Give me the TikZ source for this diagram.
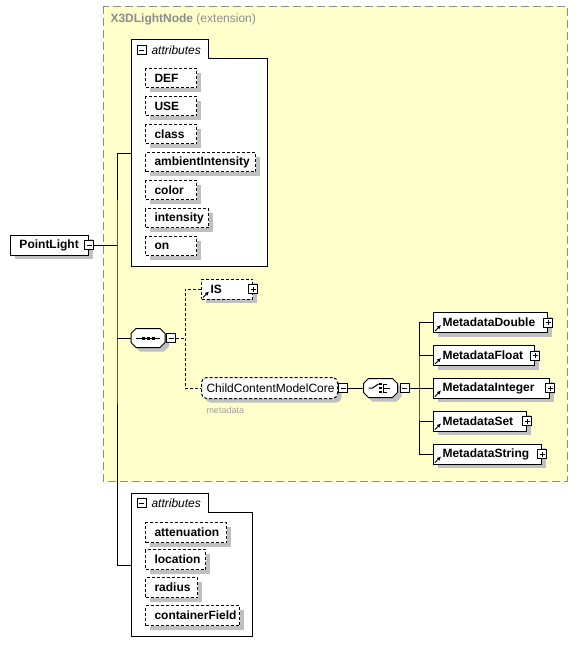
\documentclass[tikz,border=0pt]{standalone}
\usepackage{fontspec}
\setmainfont{Liberation Sans}
\usetikzlibrary{shadows,arrows.meta}

\definecolor{extfill}{RGB}{255,255,204}
\definecolor{extline}{RGB}{140,140,140}
\definecolor{shade}{RGB}{192,192,192}
\definecolor{notegray}{RGB}{160,160,160}

\tikzset{
  shade box/.style={drop shadow={shadow xshift=4pt, shadow yshift=-4pt, fill=shade, opacity=1}},
  attr/.style={draw, dash pattern=on 3pt off 2pt, fill=white, shade box, anchor=north west,
    inner xsep=9pt, inner ysep=0pt, minimum height=19, align=left,
    font=\bfseries\fontsize{12}{14}\selectfont},
  elem/.style={draw, fill=white, shade box, anchor=west, inner xsep=9pt, inner ysep=0pt,
    minimum height=20, align=left, font=\bfseries\fontsize{12}{14}\selectfont},
  pm/.style={draw, fill=white, minimum size=9, inner sep=0pt},
  minus/.style={pm, path picture={
    \draw ([xshift=2pt]path picture bounding box.west) -- ([xshift=-2pt]path picture bounding box.east);}},
  plus/.style={pm, path picture={
    \draw ([xshift=2pt]path picture bounding box.west) -- ([xshift=-2pt]path picture bounding box.east);
    \draw ([yshift=2pt]path picture bounding box.south) -- ([yshift=-2pt]path picture bounding box.north);}},
  compositor/.style={minimum width=33, minimum height=18, inner sep=0pt},
  octagon/.style={draw, fill=white, shade box},
  refmark/.style={-{Latex[length=4pt, width=4pt]}, line width=1pt}
}

\begin{document}
\begin{tikzpicture}[x=1pt, y=-1pt, line width=1pt]
    \useasboundingbox (0,0) rectangle (579,656);

    \draw [extline, fill=extfill, dash pattern=on 8pt off 4pt] (103,6) rectangle (567,481);
    \node (title) [anchor=west, inner sep=0pt, text=extline, font=\fontsize{12}{14}\selectfont] at (110,19) {\textbf{X3DLightNode} (extension)};

    \draw [fill=white] (131,39) -- (208,39) -- (208,58) -- (267,58) -- (267,266) -- (131,266) -- cycle;
    \node (attrAm) [minus] at (141.5,50) {};
    \node (attrA) [anchor=west, inner sep=0pt, font=\itshape\fontsize{12}{14}\selectfont] at (151,50) {attributes};

    \node (def) [attr, text width=33] at (145,68) {DEF};
    \node (use) [attr, text width=33] at (145,96) {USE};
    \node (class) [attr, text width=33] at (145,124) {class};
    \node (ambient) [attr, text width=92] at (145,152) {ambientIntensity};
    \node (color) [attr, text width=33] at (145,180) {color};
    \node (intensity) [attr, text width=45] at (145,208) {intensity};
    \node (on) [attr, text width=33] at (145,236) {on};

    \draw [fill=white] (131,493) -- (208,493) -- (208,512) -- (252,512) -- (252,636) -- (131,636) -- cycle;
    \node (attrBm) [minus] at (141.5,503) {};
    \node (attrB) [anchor=west, inner sep=0pt, font=\itshape\fontsize{12}{14}\selectfont] at (151,503) {attributes};

    \node (atten) [attr, minimum height=20, text width=63] at (145,522) {attenuation};
    \node (location) [attr, minimum height=20, text width=42] at (145,549) {location};
    \node (radius) [attr, minimum height=20, text width=34] at (145,577) {radius};
    \node (cfield) [attr, minimum height=20, text width=76] at (145,605) {containerField};

    \node (pl) [elem, text width=60] at (10,245) {PointLight};
    \node (plM) [minus] at (pl.east) {};

    \node (seq) [compositor] at (148,338) {};
    \draw [octagon] ([xshift=5]seq.north west) -- ([xshift=-5]seq.north east) -- ([yshift=-5]seq.north east)
        -- ([yshift=5]seq.south east) -- ([xshift=-5]seq.south east) -- ([xshift=5]seq.south west)
        -- ([yshift=5]seq.south west) -- ([yshift=-5]seq.north west) -- cycle;
    \node (seqM) [minus] at ([xshift=6]seq.east) {};
    \draw ([xshift=5]seq.west) -- ([xshift=-5]seq.east);
    \fill ([xshift=-5]seq.center) +(-1.5,-1.5) rectangle +(1.5,1.5);
    \fill (seq.center) +(-1.5,-1.5) rectangle +(1.5,1.5);
    \fill ([xshift=5]seq.center) +(-1.5,-1.5) rectangle +(1.5,1.5);

    \node (is) [elem, dash pattern=on 3pt off 2pt, text width=33] at (201,289) {IS};
    \node (isP) [plus] at (is.east) {};

    \node (ccmc) [elem, dash pattern=on 3pt off 2pt, rounded corners=5pt, minimum height=21, inner xsep=5pt, text width=126,
        font=\fontsize{12}{14}\selectfont] at (201,388) {ChildContentModelCore};
    \node (ccmcM) [minus] at ([xshift=5]ccmc.east) {};
    \node (note) [anchor=north west, inner sep=0pt, text=notegray, font=\fontsize{9}{10}\selectfont] at (206,406) {metadata};

    \node (ch) [compositor] at (380.5,388) {};
    \draw [octagon] ([xshift=5]ch.north west) -- ([xshift=-5]ch.north east) -- ([yshift=-5]ch.north east)
        -- ([yshift=5]ch.south east) -- ([xshift=-5]ch.south east) -- ([xshift=5]ch.south west)
        -- ([yshift=5]ch.south west) -- ([yshift=-5]ch.north west) -- cycle;
    \node (chM) [minus] at ([xshift=7]ch.east) {};
    \draw ([xshift=-12]ch.center) -- ([xshift=-8]ch.center) -- ++(6,-4);
    \fill (ch.center) ++(0,-4) +(-1.3,-1.3) rectangle +(1.3,1.3);
    \fill (ch.center) +(-1.3,-1.3) rectangle +(1.3,1.3);
    \fill (ch.center) ++(0,4) +(-1.3,-1.3) rectangle +(1.3,1.3);
    \draw (ch.center) ++(3,-4) -- ++(3.5,0) ++(-3.5,0) -- ++(0,8) -- ++(3.5,0);
    \draw (ch.center) ++(3,0) -- ++(6,0);

    \node (mDouble) [elem, text width=96] at (433,322.5) {MetadataDouble};
    \node (mDoubleP) [plus] at (mDouble.east) {};
    \node (mFloat) [elem, text width=83] at (433,355.5) {MetadataFloat};
    \node (mFloatP) [plus] at (mFloat.east) {};
    \node (mInteger) [elem, text width=98] at (433,388) {MetadataInteger};
    \node (mIntegerP) [plus] at (mInteger.east) {};
    \node (mSet) [elem, text width=75] at (433,421) {MetadataSet};
    \node (mSetP) [plus] at (mSet.east) {};
    \node (mString) [elem, text width=90] at (433,454) {MetadataString};
    \node (mStringP) [plus] at (mString.east) {};

    \draw [refmark] ([shift={(2,-2)}]is.south west) -- ++(6,-6);
    \draw [refmark] ([shift={(2,-2)}]mDouble.south west) -- ++(6,-6);
    \draw [refmark] ([shift={(2,-2)}]mFloat.south west) -- ++(6,-6);
    \draw [refmark] ([shift={(2,-2)}]mInteger.south west) -- ++(6,-6);
    \draw [refmark] ([shift={(2,-2)}]mSet.south west) -- ++(6,-6);
    \draw [refmark] ([shift={(2,-2)}]mString.south west) -- ++(6,-6);

    \coordinate (tk) at (117,245);
    \coordinate (grpA) at (131,153);
    \coordinate (grpB) at (131,565);
    \draw (plM.east) -- (tk);
    \draw (grpA) -| (tk) |- (grpB);
    \draw (seq.west) -- (seq.west -| tk);

    \coordinate (seqB) at (185,338);
    \draw [dash pattern=on 3pt off 2pt] (seqM.east) -- (seqB);
    \draw [dash pattern=on 3pt off 2pt] (is.west) -| (seqB) |- (ccmc.west);

    \draw (ccmcM.east) -- (ch.west);
    \coordinate (chB) at (419,388);
    \draw (chM.east) -- (chB);
    \draw (mDouble.west) -| (chB) |- (mString.west);
    \draw (mFloat.west) -- (mFloat.west -| chB);
    \draw (mInteger.west) -- (chB);
    \draw (mSet.west) -- (mSet.west -| chB);
\end{tikzpicture}
\end{document}
